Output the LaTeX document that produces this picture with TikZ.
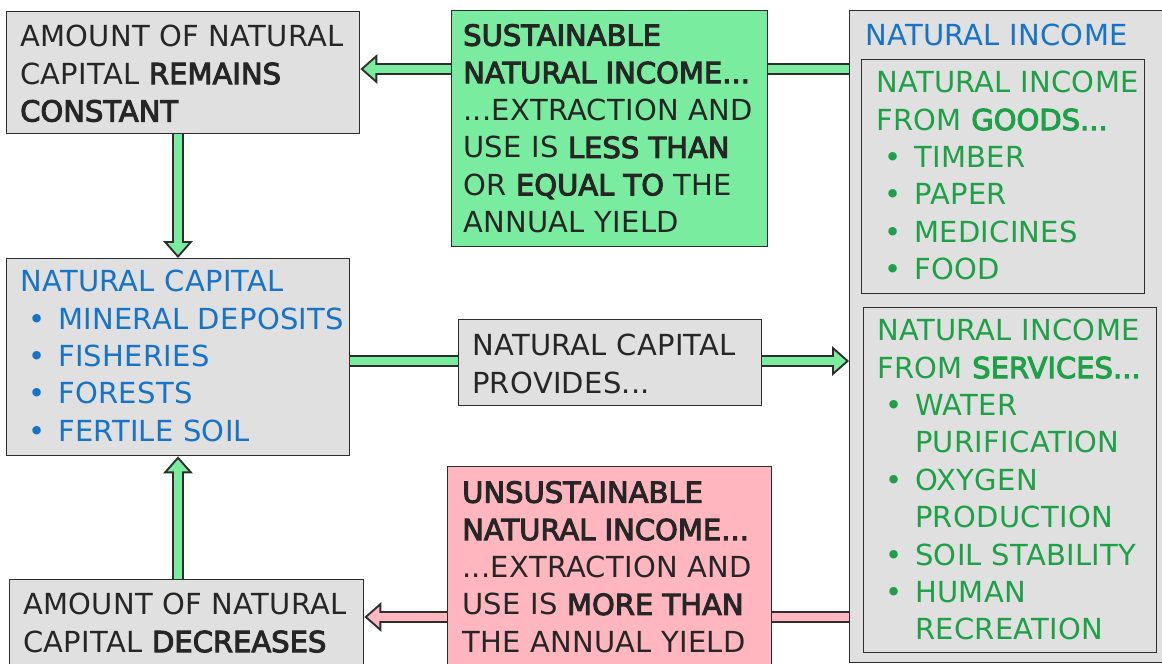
\documentclass[tikz,border=0pt]{standalone}
\usepackage{fontspec}
\setmainfont{DejaVu Sans}[LetterSpace=1]
\newfontfamily\bbfont{DejaVu Sans}[FakeBold=3.5]
\usetikzlibrary{arrows.meta}
\definecolor{gfill}{RGB}{122,236,160}
\definecolor{pfill}{RGB}{255,182,190}
\definecolor{boxgray}{RGB}{224,224,224}
\definecolor{linec}{RGB}{45,45,45}
\definecolor{txtdark}{RGB}{38,38,38}
\definecolor{tblue}{RGB}{22,115,200}
\definecolor{tgreen}{RGB}{30,160,70}
\newcommand\bb[1]{{\bbfont #1}}
\newcommand\itm[1]{\hspace*{8pt}\makebox[30pt][l]{\textbullet}#1}
\newcommand\cnt[1]{\hspace*{38pt}#1}
\newcommand\barlink[3]{%
  \draw[line width=12pt, draw=linec] #2 -- #3;
  \draw[line width=8pt, draw=#1] #2 -- #3;}
\newcommand\headlink[3]{%
  \draw[line width=12pt, draw=linec, -{Triangle[length=17pt,width=30pt,line width=0pt]}] #2 -- #3;
  \draw[line width=8pt, draw=#1, shorten >=3pt, -{Triangle[length=12pt,width=21pt,line width=0pt]}] #2 -- #3;}
\tikzset{
  box/.style={draw=linec, line width=1.4pt, anchor=north west, inner sep=0pt},
  graybox/.style={box, fill=boxgray},
  txt/.style={anchor=north west, inner sep=0pt, align=left, text=txtdark,
    font=\fontsize{29}{37.4}\selectfont},
}
\begin{document}
\begin{tikzpicture}[x=1pt,y=-1pt]
\useasboundingbox (0,0) rectangle (1162,664);
% boxes
\node[graybox, minimum width=353pt, minimum height=122pt] (A) at (6,11) {};
\node[box, fill=gfill, minimum width=316pt, minimum height=236pt] (G) at (451,10) {};
\node[graybox, minimum width=330pt, minimum height=652pt] (R) at (849,10) {};
\node[graybox, minimum width=283pt, minimum height=234pt] (RG) at (861,59) {};
\node[graybox, minimum width=293pt, minimum height=345pt] (RS) at (863,307) {};
\node[graybox, minimum width=343pt, minimum height=197pt] (NC) at (6,258) {};
\node[graybox, minimum width=303pt, minimum height=86pt] (P) at (458,319) {};
\node[box, fill=pfill, minimum width=324pt, minimum height=230pt] (U) at (447,466) {};
\node[graybox, minimum width=354pt, minimum height=110pt] (D) at (9,579) {};
% texts
\node[txt] (tA) at (20,25) {AMOUNT OF NATURAL\\CAPITAL \bb{REMAINS}\\\bb{CONSTANT}};
\node[txt] (tG) at (463,24) {\bb{SUSTAINABLE}\\\bb{NATURAL INCOME...}\\...EXTRACTION AND\\USE IS \bb{LESS THAN}\\OR \bb{EQUAL TO} THE\\ANNUAL YIELD};
\node[txt, text=tblue] (tR) at (865,24) {NATURAL INCOME};
\node[txt, text=tgreen] (tRG) at (876,71) {NATURAL INCOME\\FROM \bb{GOODS...}\\\itm{TIMBER}\\\itm{PAPER}\\\itm{MEDICINES}\\\itm{FOOD}};
\node[txt, text=tgreen] (tRS) at (877,319) {NATURAL INCOME\\FROM \bb{SERVICES...}\\\itm{WATER}\\\cnt{PURIFICATION}\\\itm{OXYGEN}\\\cnt{PRODUCTION}\\\itm{SOIL STABILITY}\\\itm{HUMAN}\\\cnt{RECREATION}};
\node[txt, text=tblue] (tNC) at (20,270) {NATURAL CAPITAL\\\itm{MINERAL DEPOSITS}\\\itm{FISHERIES}\\\itm{FORESTS}\\\itm{FERTILE SOIL}};
\node[txt] (tP) at (472,334) {NATURAL CAPITAL\\PROVIDES...};
\node[txt] (tU) at (462,481) {\bb{UNSUSTAINABLE}\\\bb{NATURAL INCOME...}\\...EXTRACTION AND\\USE IS \bb{MORE THAN}\\THE ANNUAL YIELD};
\node[txt] (tD) at (23,593) {AMOUNT OF NATURAL\\CAPITAL \bb{DECREASES}};
% connector guides
\coordinate (y1) at (0,69);
\coordinate (y2) at (0,361);
\coordinate (y3) at (0,617);
\coordinate (x1) at (178,0);
% connectors
\headlink{gfill}{(y1 -| G.west)}{(y1 -| A.east)}
\barlink{gfill}{(y1 -| G.east)}{(y1 -| R.west)}
\headlink{gfill}{(x1 |- A.south)}{(x1 |- NC.north)}
\barlink{gfill}{(y2 -| NC.east)}{(y2 -| P.west)}
\headlink{gfill}{(y2 -| P.east)}{(y2 -| R.west)}
\headlink{gfill}{(x1 |- D.north)}{(x1 |- NC.south)}
\headlink{pfill}{(y3 -| U.west)}{(y3 -| D.east)}
\barlink{pfill}{(y3 -| U.east)}{(y3 -| R.west)}
\end{tikzpicture}
\end{document}
